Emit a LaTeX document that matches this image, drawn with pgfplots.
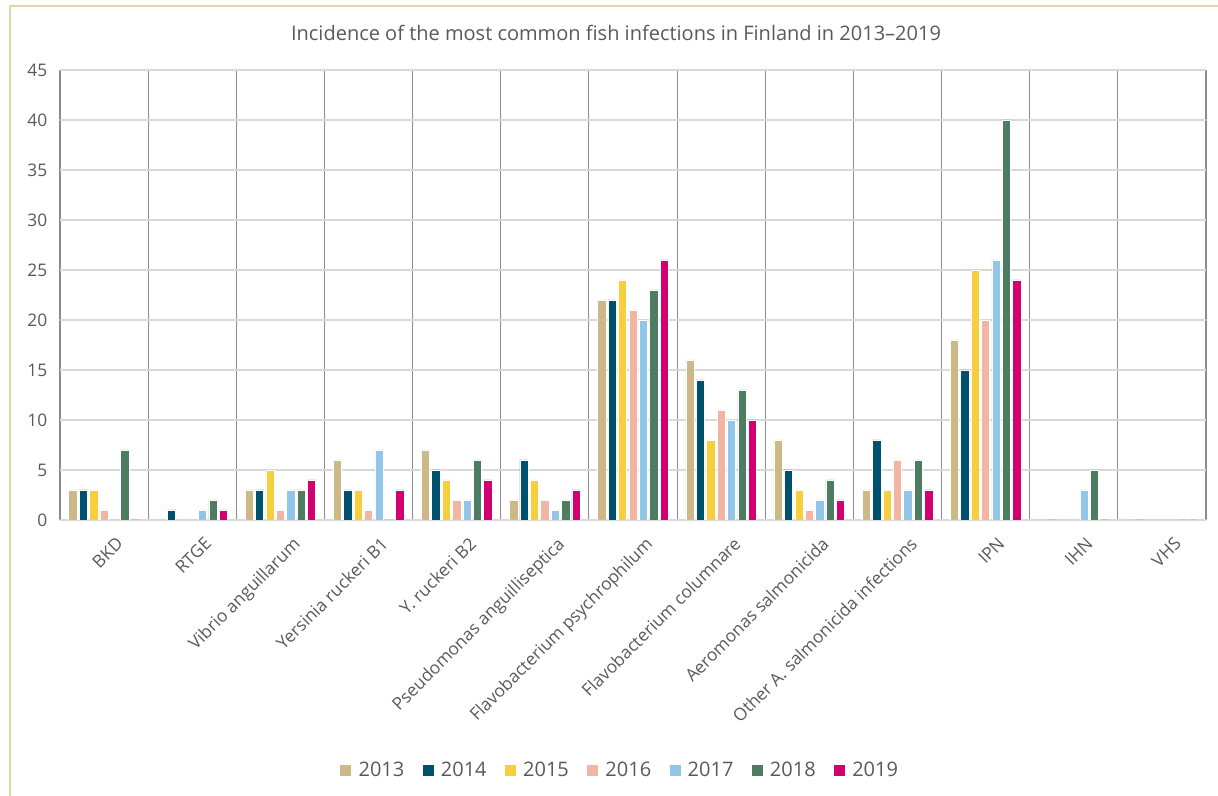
\documentclass[border=0pt]{standalone}
\usepackage{pgfplots}
\pgfplotsset{compat=1.18}
\usepackage{fontspec}
\setmainfont{Open Sans}
\definecolor{c13}{HTML}{CDB888}
\definecolor{c14}{HTML}{00506F}
\definecolor{c15}{HTML}{F7CE3C}
\definecolor{c16}{HTML}{F2B5A4}
\definecolor{c17}{HTML}{91C6E8}
\definecolor{c18}{HTML}{4D7D61}
\definecolor{c19}{HTML}{D20070}
\definecolor{txt}{HTML}{595959}
\definecolor{gridc}{HTML}{D9D9D9}
\definecolor{sepc}{HTML}{8C8C8C}
\definecolor{frame}{HTML}{E2D3AC}
\begin{document}
\begin{tikzpicture}
\useasboundingbox (0,0) rectangle (913.5pt,597pt);
\draw[frame, line width=1.6pt] (7.5pt,0) -- (7.5pt,592.5pt) -- (913.5pt,592.5pt);
\node[text=txt, font=\fontsize{15}{17}\selectfont] at (462pt,572pt) {Incidence of the most common fish infections in Finland in 2013–2019};
\begin{axis}[
  at={(45pt,207pt)}, anchor=south west,
  scale only axis, width=859.5pt, height=337.5pt,
  ybar=1.6pt, bar width=6.2pt,
  xmin=-0.5, xmax=12.5, ymin=0, ymax=45,
  ytick={0,5,...,45},
  xtick={0,...,12},
  xticklabels={BKD,RTGE,Vibrio anguillarum,Yersinia ruckeri B1,Y. ruckeri B2,Pseudomonas anguilliseptica,Flavobacterium psychrophilum,Flavobacterium columnare,Aeromonas salmonicida,Other A. salmonicida infections,IPN,IHN,VHS},
  minor xtick={-0.5,0.5,...,12.5},
  xminorgrids, ymajorgrids,
  minor grid style={sepc, line width=0.8pt},
  major grid style={gridc, line width=0.9pt},
  axis line style={draw=none},
  major tick length=0pt, minor tick length=0pt,
  tick label style={text=txt, font=\fontsize{13}{15}\selectfont},
  /pgf/number format/assume math mode=true,
  yticklabel style={xshift=-6pt},
  xticklabel style={rotate=45, anchor=north east, yshift=-11pt, xshift=1pt},
  legend style={at={(0.4887,-0.556)}, anchor=center, draw=none, fill=none,
    legend columns=7, font=\fontsize{15}{17}\selectfont, text=txt,
    /tikz/every odd column/.append style={column sep=3pt},
    /tikz/every even column/.append style={column sep=11pt}},
  legend image code/.code={\fill[#1] (0pt,-4.5pt) rectangle (9pt,4.5pt);},
  every axis plot/.append style={draw=white, line width=0.4pt},
]
\addplot[fill=c13] coordinates {(0,3)(1,0)(2,3)(3,6)(4,7)(5,2)(6,22)(7,16)(8,8)(9,3)(10,18)(11,0)(12,0)};
\addplot[fill=c14] coordinates {(0,3)(1,1)(2,3)(3,3)(4,5)(5,6)(6,22)(7,14)(8,5)(9,8)(10,15)(11,0)(12,0)};
\addplot[fill=c15] coordinates {(0,3)(1,0)(2,5)(3,3)(4,4)(5,4)(6,24)(7,8)(8,3)(9,3)(10,25)(11,0)(12,0)};
\addplot[fill=c16] coordinates {(0,1)(1,0)(2,1)(3,1)(4,2)(5,2)(6,21)(7,11)(8,1)(9,6)(10,20)(11,0)(12,0)};
\addplot[fill=c17] coordinates {(0,0)(1,1)(2,3)(3,7)(4,2)(5,1)(6,20)(7,10)(8,2)(9,3)(10,26)(11,3)(12,0)};
\addplot[fill=c18] coordinates {(0,7)(1,2)(2,3)(3,0)(4,6)(5,2)(6,23)(7,13)(8,4)(9,6)(10,40)(11,5)(12,0)};
\addplot[fill=c19] coordinates {(0,0)(1,1)(2,4)(3,3)(4,4)(5,3)(6,26)(7,10)(8,2)(9,3)(10,24)(11,0)(12,0)};
\legend{2013,2014,2015,2016,2017,2018,2019}
\end{axis}
\end{tikzpicture}
\end{document}
